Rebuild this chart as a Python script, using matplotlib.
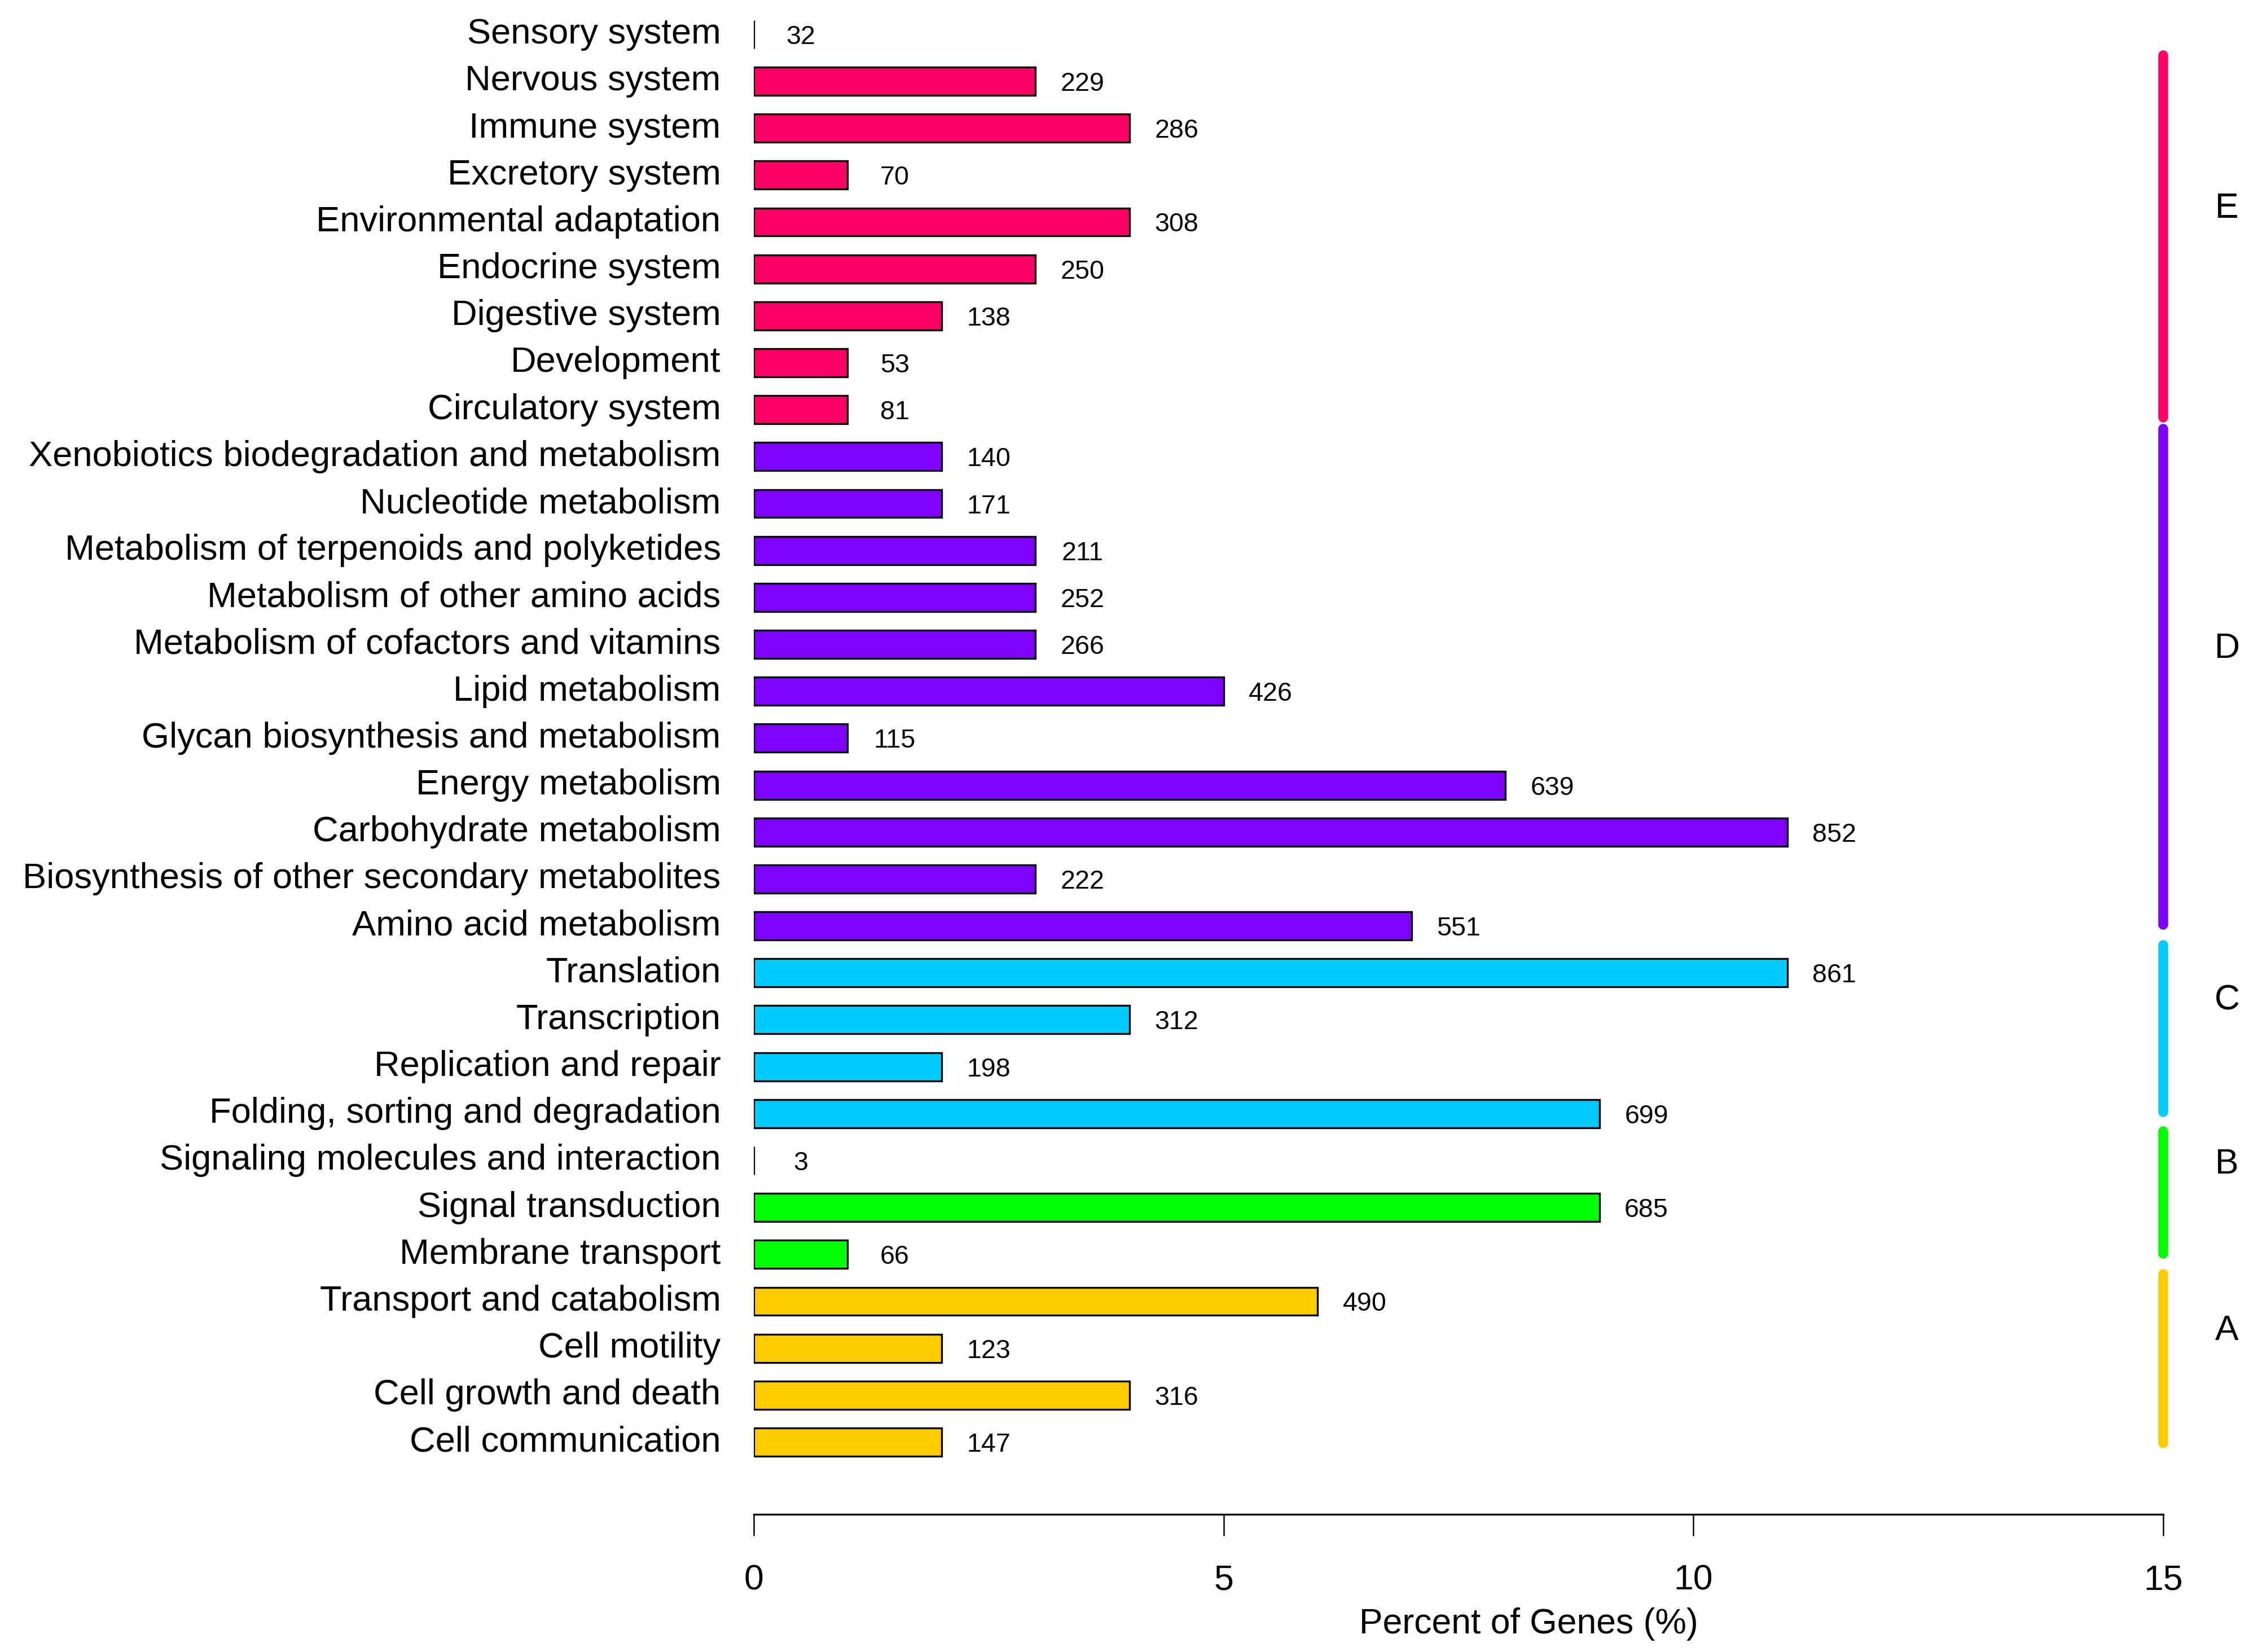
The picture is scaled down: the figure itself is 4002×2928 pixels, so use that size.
import matplotlib
matplotlib.use('Agg')
import matplotlib.pyplot as plt

plt.rcParams['font.family'] = ['Liberation Sans', 'DejaVu Sans']

# bottom to top
categories = [
    'Cell communication', 'Cell growth and death', 'Cell motility', 'Transport and catabolism',
    'Membrane transport', 'Signal transduction', 'Signaling molecules and interaction',
    'Folding, sorting and degradation', 'Replication and repair', 'Transcription', 'Translation',
    'Amino acid metabolism', 'Biosynthesis of other secondary metabolites', 'Carbohydrate metabolism',
    'Energy metabolism', 'Glycan biosynthesis and metabolism', 'Lipid metabolism',
    'Metabolism of cofactors and vitamins', 'Metabolism of other amino acids',
    'Metabolism of terpenoids and polyketides', 'Nucleotide metabolism',
    'Xenobiotics biodegradation and metabolism',
    'Circulatory system', 'Development', 'Digestive system', 'Endocrine system',
    'Environmental adaptation', 'Excretory system', 'Immune system', 'Nervous system', 'Sensory system',
]
percent = [2, 4, 2, 6,
           1, 9, 0,
           9, 2, 4, 11,
           7, 3, 11, 8, 1, 5, 3, 3, 3, 2, 2,
           1, 1, 2, 3, 4, 1, 4, 3, 0]
counts = [147, 316, 123, 490,
          66, 685, 3,
          699, 198, 312, 861,
          551, 222, 852, 639, 115, 426, 266, 252, 211, 171, 140,
          81, 53, 138, 250, 308, 70, 286, 229, 32]
group_of = ['A'] * 4 + ['B'] * 3 + ['C'] * 4 + ['D'] * 11 + ['E'] * 9
group_names = ['A', 'B', 'C', 'D', 'E']
group_colors = ['#FFCC00', '#00FF00', '#00CCFF', '#7F00FF', '#FF0066']
# extent of the coloured side lines, in bar index units (as drawn in the figure)
group_spans = [(-0.02, 3.58), (4.02, 6.62), (7.03, 10.59), (11.02, 21.59), (21.83, 29.55)]

color_map = dict(zip(group_names, group_colors))
bar_colors = [color_map[g] for g in group_of]

fig = plt.figure(figsize=(4002 / 300, 2928 / 300), dpi=300)
ax = fig.add_axes([0.3338, 0.08333, 0.6242, 0.90984])

y = list(range(len(categories)))
ax.barh(y, percent, height=0.6, color=bar_colors, edgecolor='black', linewidth=0.8)

for yi, p, c in zip(y, percent, counts):
    ax.text(p + 0.5, yi, str(c), ha='center', va='center_baseline', fontsize=11.2)

for (s, e), col, name in zip(group_spans, group_colors, group_names):
    ax.plot([15, 15], [s, e], color=col, lw=4.2, solid_capstyle='round', clip_on=False)
    ax.text(15.68, (s + e) / 2 + 0.6, name, ha='center', va='center', fontsize=15)

ax.set_xlim(0, 15)
ax.set_ylim(-1.539, 30.49)
ax.set_xticks([0, 5, 10, 15])
ax.set_xticklabels(['0', '5', '10', '15'])
ax.set_yticks(y)
ax.set_yticklabels(categories)
for lab in ax.get_yticklabels():
    lab.set_va('center')
ax.tick_params(axis='y', length=0, pad=14, labelsize=15.2)
ax.tick_params(axis='x', length=9, width=0.6, pad=12, labelsize=15, direction='out')
for side in ['left', 'right', 'top']:
    ax.spines[side].set_visible(False)
ax.spines['bottom'].set_linewidth(0.8)
ax.set_xlabel('Percent of Genes (%)', fontsize=15)
ax.xaxis.set_label_coords(0.55, -0.062)

fig.savefig('out.png', dpi=300)
